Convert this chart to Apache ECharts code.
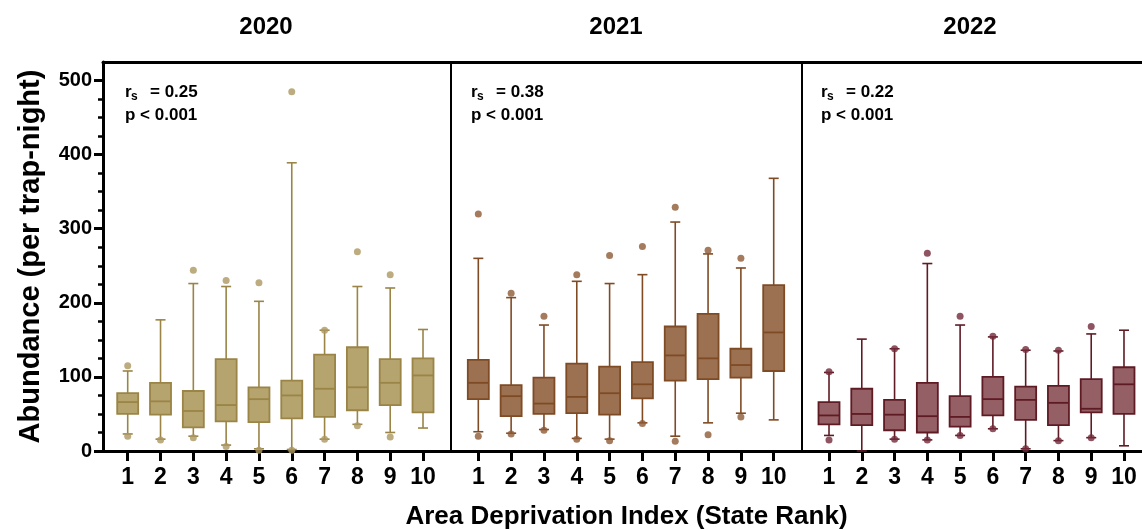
<!DOCTYPE html>
<html>
<head>
<meta charset="utf-8">
<script src="https://cdn.jsdelivr.net/npm/echarts@6/dist/echarts.min.js"></script>
<style>
html,body{margin:0;padding:0;background:#fff;}
#chart{width:1142px;height:530px;}
</style>
</head>
<body>
<div id="chart"></div>
<script>
// ---------- data ----------
const categories = ['1','2','3','4','5','6','7','8','9','10'];
const years = ['2020','2021','2022'];
const yTicks = [0,100,200,300,400,500];
const yMinorTicks = [25,50,75,125,150,175,225,250,275,325,350,375,425,450,475];
const rsLabels = ['0.25','0.38','0.22'];
const pLabel = 'p < 0.001';

// [whisker low, Q1, median, Q3, whisker high]
const box2020 = [
  [23, 50, 66, 78, 108],
  [16, 49, 67, 92, 177],
  [20, 32, 54, 81, 226],
  [8, 40, 62, 124, 222],
  [3, 39, 70, 86, 202],
  [2, 44, 75, 95, 389],
  [16, 46, 84, 130, 163],
  [36, 55, 86, 140, 222],
  [25, 62, 92, 124, 220],
  [31, 52, 102, 125, 164]
];
const box2021 = [
  [26, 70, 92, 123, 260],
  [24, 47, 74, 89, 207],
  [29, 50, 64, 99, 170],
  [17, 51, 73, 118, 229],
  [16, 49, 78, 114, 226],
  [38, 71, 90, 120, 238],
  [20, 95, 129, 168, 309],
  [38, 97, 125, 185, 266],
  [51, 99, 116, 138, 247],
  [42, 108, 160, 224, 368]
];
const box2022 = [
  [21, 36, 48, 66, 106],
  [0, 35, 50, 84, 151],
  [16, 28, 49, 69, 138],
  [15, 25, 47, 92, 253],
  [21, 33, 46, 74, 170],
  [30, 48, 70, 100, 154],
  [3, 42, 69, 87, 136],
  [14, 35, 65, 88, 135],
  [18, 52, 57, 97, 158],
  [7, 50, 90, 113, 163]
];
// outliers: [category, value]
const out2020 = [['1',115],['1',20],['2',15],['3',244],['3',18],['4',230],['4',6],['5',227],['5',1],['6',485],['6',1],['7',163],['7',16],['8',269],['8',34],['9',238],['9',19]];
const out2021 = [['1',320],['1',20],['2',213],['2',23],['3',182],['3',28],['4',238],['4',16],['5',264],['5',14],['6',276],['6',37],['7',329],['7',13],['8',271],['8',22],['9',260],['9',46]];
const out2022 = [['1',107],['1',15],['3',138],['3',16],['4',267],['4',15],['5',182],['5',21],['6',155],['6',30],['7',137],['7',3],['8',136],['8',14],['9',168],['9',18]];

// ---------- style ----------
const fills   = ['#b5a46e', '#9c7152', '#956065'];
const strokes = ['#9a8446', '#7f4b25', '#5f1b24'];
const dots    = ['#ab9760', '#8e5a36', '#73293a'];
const FONT = '"Liberation Sans", Arial, sans-serif';

// grid layout (px)
const grids = [
  {left: 103, width: 348, top: 62, height: 389},
  {left: 451, width: 351, top: 62, height: 389},
  {left: 802, width: 349, top: 62, height: 389}
];
const xRanges = [[0.247, 10.853],[0.168, 10.862],[0.176, 10.824]];

const boxes = [box2020, box2021, box2022];
const outs = [out2020, out2021, out2022];

function boxData(arr){
  return arr.map((b,i)=>[i+1].concat(b));
}
function outData(arr){
  return arr.map(o=>[categories.indexOf(o[0])+1, o[1]]);
}

function makeRender(k){
  return function(params, api){
    const x = api.value(0);
    const lo = api.coord([x, api.value(1)]);
    const q1 = api.coord([x, api.value(2)]);
    const md = api.coord([x, api.value(3)]);
    const q3 = api.coord([x, api.value(4)]);
    const hi = api.coord([x, api.value(5)]);
    const cx = lo[0];
    const bw = 21, cw = 10;
    const ls = {stroke: strokes[k], lineWidth: 1.6};
    return {
      type: 'group',
      children: [
        {type:'line', shape:{x1:cx,y1:hi[1],x2:cx,y2:q3[1]}, style:ls},
        {type:'line', shape:{x1:cx,y1:q1[1],x2:cx,y2:lo[1]}, style:ls},
        {type:'line', shape:{x1:cx-cw/2,y1:hi[1],x2:cx+cw/2,y2:hi[1]}, style:ls},
        {type:'line', shape:{x1:cx-cw/2,y1:lo[1],x2:cx+cw/2,y2:lo[1]}, style:ls},
        {type:'rect', shape:{x:cx-bw/2,y:q3[1],width:bw,height:q1[1]-q3[1]}, style:{fill:fills[k], stroke:strokes[k], lineWidth:1.8}},
        {type:'line', shape:{x1:cx-bw/2,y1:md[1],x2:cx+bw/2,y2:md[1]}, style:{stroke:strokes[k], lineWidth:1.8}}
      ]
    };
  };
}

const xAxes = [], yAxes = [], series = [], gridOpts = [], graphics = [];
grids.forEach((g,k)=>{
  gridOpts.push({left:g.left, width:g.width, top:g.top, height:g.height, containLabel:false, outerBoundsMode:'none'});
  const bottom = {
    type:'value', gridIndex:k, min:xRanges[k][0], max:xRanges[k][1], position:'bottom',
    axisLine:{show:true, onZero:false, lineStyle:{color:'#000', width:3}},
    axisTick:{show:true, customValues:categories.map((c,i)=>i+1), length:10, lineStyle:{color:'#000', width:3}},
    axisLabel:{show:true, customValues:categories.map((c,i)=>i+1), formatter:(v)=>categories[Math.round(v)-1],
      margin:15, color:'#000', fontSize:23, fontWeight:'bold', fontFamily:FONT},
    splitLine:{show:false}
  };
  if(k===1){
    bottom.name = 'Area Deprivation Index (State Rank)';
    bottom.nameLocation = 'middle';
    bottom.nameGap = 53;
    bottom.nameTextStyle = {color:'#000', fontSize:26, fontWeight:'bold', fontFamily:FONT};
  }
  xAxes.push(bottom);
});
grids.forEach((g,k)=>{
  xAxes.push({
    type:'value', gridIndex:k, min:xRanges[k][0], max:xRanges[k][1], position:'top',
    axisLine:{show:true, onZero:false, lineStyle:{color:'#000', width:3}},
    axisTick:{show:false}, axisLabel:{show:false}, splitLine:{show:false}
  });
});
// y axes
yAxes.push({
  type:'value', gridIndex:0, min:0, max:525, position:'left',
  name:'Abundance (per trap-night)', nameLocation:'middle', nameGap:58,
  nameTextStyle:{color:'#000', fontSize:29, fontWeight:'bold', fontFamily:FONT},
  axisLine:{show:true, onZero:false, lineStyle:{color:'#000', width:3}},
  axisTick:{show:true, customValues:yTicks, length:9, lineStyle:{color:'#000', width:3}},
  axisLabel:{show:true, customValues:yTicks, margin:11, color:'#000', fontSize:20, fontWeight:'bold', fontFamily:FONT},
  splitLine:{show:false}
});
yAxes.push({
  type:'value', gridIndex:0, min:0, max:525, position:'left', offset:0,
  axisLine:{show:false},
  axisTick:{show:true, customValues:yMinorTicks, length:5, lineStyle:{color:'#000', width:2.5}},
  axisLabel:{show:false}, splitLine:{show:false}
});
[1,2].forEach(k=>{
  yAxes.push({
    type:'value', gridIndex:k, min:0, max:525, position:'left',
    axisLine:{show:true, onZero:false, lineStyle:{color:'#000', width:2}},
    axisTick:{show:false}, axisLabel:{show:false}, splitLine:{show:false}
  });
});
const yIdx = [0,2,3];

grids.forEach((g,k)=>{
  series.push({
    type:'custom', name:years[k]+' box', xAxisIndex:k, yAxisIndex:yIdx[k],
    data: boxData(boxes[k]), encode:{x:0, y:[1,2,3,4,5]},
    renderItem: makeRender(k), z:2
  });
  series.push({
    type:'scatter', name:years[k]+' outliers', xAxisIndex:k, yAxisIndex:yIdx[k],
    data: outData(outs[k]), symbol:'circle', symbolSize:7,
    itemStyle:{color:dots[k]}, z:3
  });
  // year title
  const cxTitle = [266, 616, 970][k];
  graphics.push({type:'text', x:cxTitle, y:27,
    style:{text:years[k], fill:'#000', font:'bold 24px '+FONT, textAlign:'center', textVerticalAlign:'middle'}});
  // annotations
  const ax = g.left + [22, 20, 19][k];
  graphics.push({type:'text', x:ax, y:92, style:{text:'r', fill:'#000', font:'bold 17px '+FONT, textAlign:'left', textVerticalAlign:'middle'}});
  graphics.push({type:'text', x:ax+6, y:97, style:{text:'s', fill:'#000', font:'bold 12px '+FONT, textAlign:'left', textVerticalAlign:'middle'}});
  graphics.push({type:'text', x:ax+25, y:92, style:{text:'= '+rsLabels[k], fill:'#000', font:'bold 17px '+FONT, textAlign:'left', textVerticalAlign:'middle'}});
  graphics.push({type:'text', x:ax, y:115, style:{text:pLabel, fill:'#000', font:'bold 17px '+FONT, textAlign:'left', textVerticalAlign:'middle'}});
});

const chart = echarts.init(document.getElementById('chart'), null, {renderer:'canvas'});
chart.setOption({
  animation:false,
  backgroundColor:'#fff',
  grid: gridOpts,
  xAxis: xAxes,
  yAxis: yAxes,
  series: series,
  graphic: graphics
});
</script>
</body>
</html>
